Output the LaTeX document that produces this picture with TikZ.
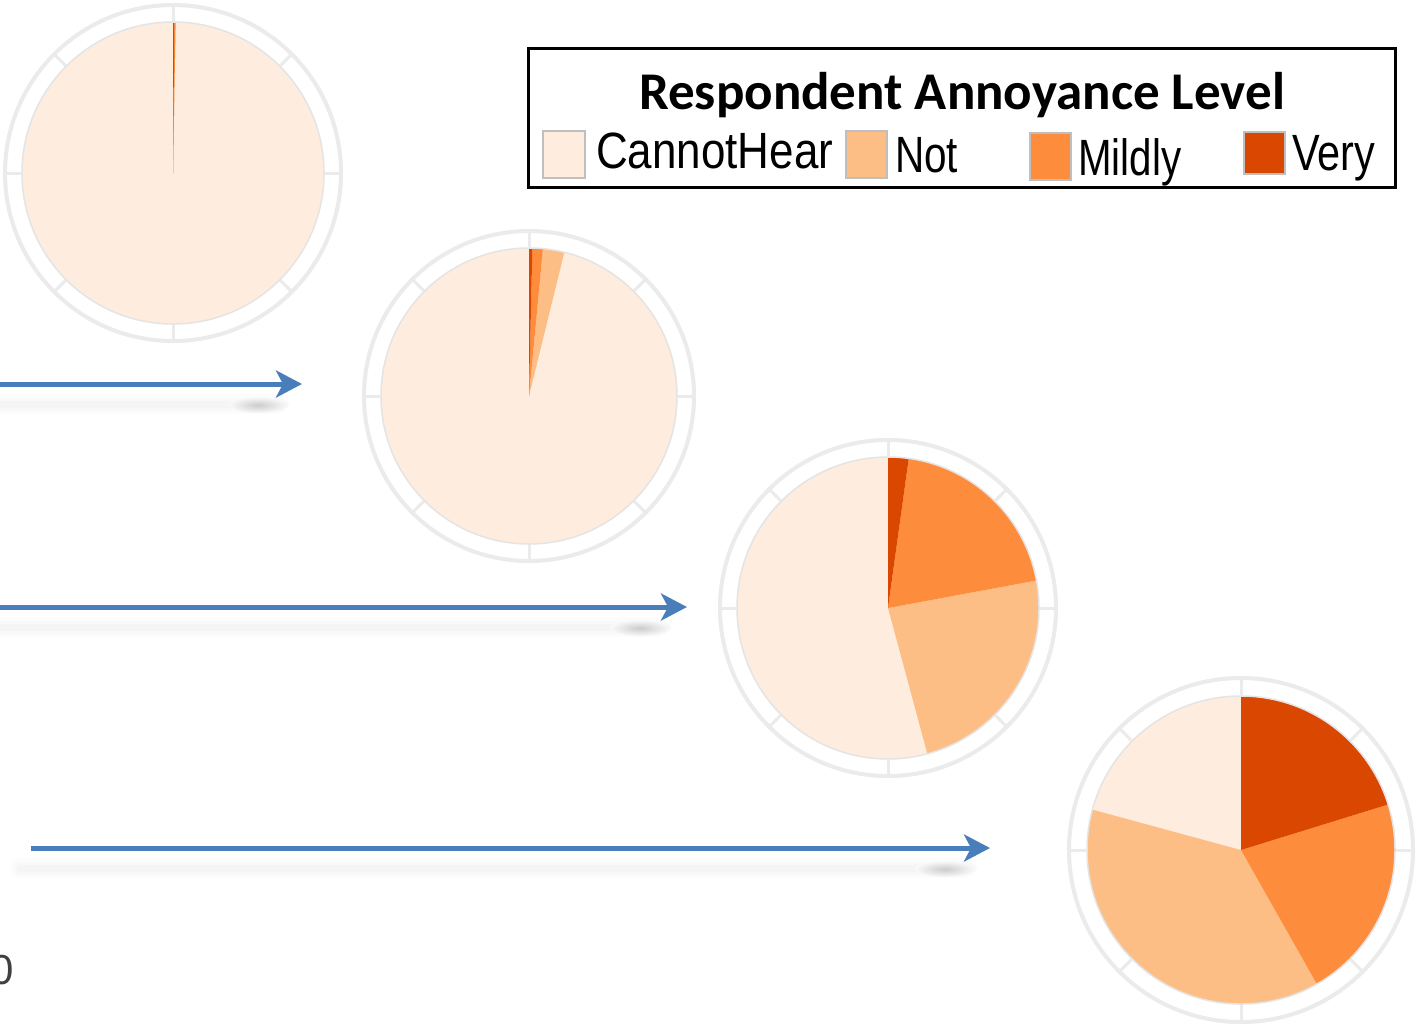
\documentclass[tikz,border=0pt]{standalone}
\usepackage{fontspec}
\usepackage{graphicx}
\setmainfont{Liberation Sans}
\newfontfamily\titlefont{Carlito}
\usetikzlibrary{arrows.meta}
\definecolor{cH}{HTML}{FEEDDE}
\definecolor{cN}{HTML}{FDBE85}
\definecolor{cM}{HTML}{FD8D3C}
\definecolor{cV}{HTML}{D94701}
\definecolor{ringgray}{HTML}{EBEBEB}
\definecolor{edgegray}{HTML}{E4E4E4}
\definecolor{arrowblue}{HTML}{4A7EBB}
\definecolor{swborder}{HTML}{BFBFBF}
\tikzset{
  arr/.style={line width=5, arrowblue, -{Stealth[length=26pt, width=27pt, inset=7pt]}},
  swatch/.style={draw=swborder, line width=2, anchor=north west, inner sep=0},
  leglabel/.style={anchor=base west, inner sep=0},
}
% #1 cx, #2 cy, #3 pie radius, #4 ring radius, #5 #6 #7 cumulative angles (clockwise from top)
\newcommand\mypiechart[7]{%
  \begin{scope}[shift={(#1,#2)}]
    \fill[cH] (0,0) circle[radius=#3];
    \fill[cN] (0,0) -- (-90+#6:#3) arc[start angle=-90+#6, end angle=-90+#7, radius=#3] -- cycle;
    \fill[cM] (0,0) -- (-90+#5:#3) arc[start angle=-90+#5, end angle=-90+#6, radius=#3] -- cycle;
    \fill[cV] (0,0) -- (-90:#3) arc[start angle=-90, end angle=-90+#5, radius=#3] -- cycle;
    \draw[edgegray, line width=1.5] (0,0) circle[radius=#3];
    \draw[ringgray, line width=4] (0,0) circle[radius=#4];
    \foreach \a in {0,45,...,315} \draw[ringgray, line width=3] ({\a}:{#3+0.5}) -- ({\a}:{#4+1.5});
  \end{scope}}
% soft shadow under an arrow: #1 x0, #2 x1, #3 y, #4 spot x
\newcommand\arrowshadow[4]{%
  \draw[line width=20, black, opacity=0.010, line cap=round] (#1,#3) -- (#2-14,#3);
  \draw[line width=13, black, opacity=0.013, line cap=round] (#1,#3) -- (#2-8,#3);
  \draw[line width=7, black, opacity=0.015, line cap=round] (#1,#3) -- (#2-4,#3);
  \shade[inner color=black!20, outer color=black!2] (#4,#3+1) ellipse[x radius=30, y radius=8];}
\begin{document}
\begin{tikzpicture}[x=1pt, y=-1pt]
  \useasboundingbox (0,0) rectangle (1423,1029);
  \fill[white] (0,0) rectangle (1423,1029);

  % pies
  \mypiechart{173}{173}{151}{168}{0.5}{1.0}{1.0}
  \mypiechart{529}{396}{148}{165}{1.3}{5.4}{13.8}
  \mypiechart{888}{608}{151}{168}{7.9}{79.5}{164.9}
  \mypiechart{1241}{850}{154}{172}{72.8}{150.5}{285.2}

  % arrow shadows
  \arrowshadow{0}{290}{404}{258}
  \arrowshadow{0}{672}{627}{640}
  \arrowshadow{20}{978}{868}{945}

  % arrows
  \coordinate (a1s) at (0,384);   \coordinate (a1e) at (302,384);
  \coordinate (a2s) at (0,607);   \coordinate (a2e) at (687,607);
  \coordinate (a3s) at (31,848);  \coordinate (a3e) at (990,848);
  \draw[arr] (a1s) -- (a1e);
  \draw[arr] (a2s) -- (a2e);
  \draw[arr] (a3s) -- (a3e);

  % legend
  \node[draw=black, line width=2.5, anchor=north west, minimum width=867, minimum height=139, inner sep=0] (legend) at (527,47) {};
  \node[anchor=base, inner sep=0, font=\titlefont\bfseries\fontsize{53}{60}\selectfont] (title) at (962,109) {Respondent Annoyance Level};

  \node[swatch, fill=cH, minimum width=42, minimum height=47] (swH) at (542,130) {};
  \node[swatch, fill=cN, minimum width=41, minimum height=47] (swN) at (845,130) {};
  \node[swatch, fill=cM, minimum width=41, minimum height=47] (swM) at (1029,132) {};
  \node[swatch, fill=cV, minimum width=41, minimum height=42] (swV) at (1243,131) {};

  \node[leglabel] (lH) at (596,168) {\resizebox{237pt}{\height}{\fontsize{51}{60}\selectfont CannotHear}};
  \node[leglabel] (lN) at (895,172) {\resizebox{63pt}{\height}{\fontsize{51}{60}\selectfont Not}};
  \node[leglabel] (lM) at (1078,175) {\resizebox{103pt}{\height}{\fontsize{51}{60}\selectfont Mildly}};
  \node[leglabel] (lV) at (1292,170) {\resizebox{83pt}{\height}{\fontsize{51}{60}\selectfont Very}};

  % partial axis label at the left edge (cut off in the reference too)
  \node[anchor=base east, inner sep=0, text=black!75, font=\fontsize{42}{48}\selectfont] (zero) at (14,984) {0};
\end{tikzpicture}
\end{document}
